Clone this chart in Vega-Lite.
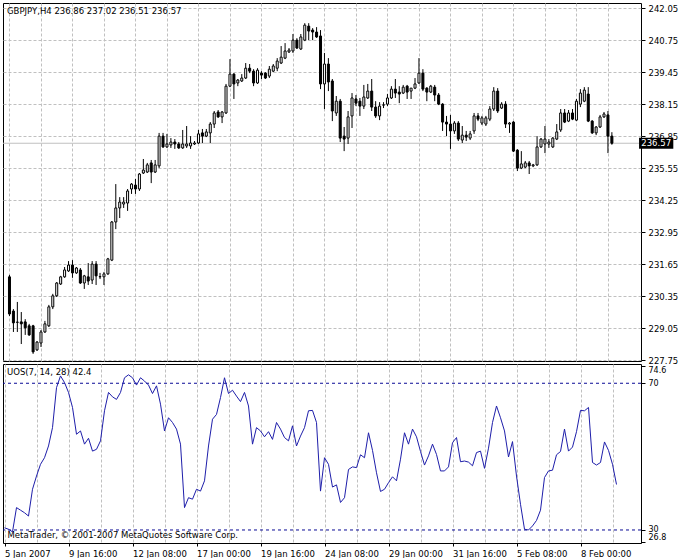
{
  "$schema": "https://vega.github.io/schema/vega-lite/v6.json",
  "background": "white",
  "padding": {"left": 2, "top": 2, "right": 0, "bottom": 0},
  "autosize": {"type": "pad"},
  "spacing": 3,
  "bounds": "flush",
  "config": {
    "font": "DejaVu Sans",
    "view": {"stroke": "black", "strokeWidth": 1},
    "axis": {
      "labelFont": "DejaVu Sans", "labelFontSize": 8.5, "labelColor": "black",
      "tickColor": "black", "domain": false, "labelOverlap": false, "labelSeparation": 0,
      "gridColor": "#c0c0c0", "gridDash": [3, 2], "gridWidth": 1, "gridOpacity": 1,
      "titleFont": "DejaVu Sans", "titleFontSize": 8.5, "titleFontWeight": "normal", "titleColor": "black"
    },
    "title": {"font": "DejaVu Sans", "fontSize": 8.5, "fontWeight": "normal", "color": "black", "anchor": "start", "frame": "group"}
  },
  "datasets": {
    "last": [{"p": 236.57, "t": "236.57"}],
    "levels": [{"level": 70}, {"level": 30}],
    "bars": [
      {"i":0,"o":231.14,"h":231.22,"l":229.55,"c":229.63,"u":30.6},
      {"i":1,"o":229.75,"h":229.83,"l":228.90,"c":229.27,"u":30.2},
      {"i":2,"o":229.29,"h":230.12,"l":228.90,"c":229.30,"u":29.5},
      {"i":3,"o":229.31,"h":229.71,"l":228.41,"c":229.23,"u":36.1},
      {"i":4,"o":229.31,"h":229.42,"l":228.78,"c":229.07,"u":35.4},
      {"i":5,"o":229.15,"h":229.23,"l":228.74,"c":228.78,"u":34.7},
      {"i":6,"o":229.15,"h":229.19,"l":228.01,"c":228.09,"u":33.8},
      {"i":7,"o":228.17,"h":228.53,"l":228.13,"c":228.49,"u":41.1},
      {"i":8,"o":228.45,"h":228.98,"l":228.29,"c":228.90,"u":44.7},
      {"i":9,"o":228.90,"h":229.35,"l":228.86,"c":229.23,"u":47.9},
      {"i":10,"o":229.15,"h":230.00,"l":229.10,"c":229.92,"u":49.7},
      {"i":11,"o":229.92,"h":230.45,"l":229.83,"c":230.37,"u":52.9},
      {"i":12,"o":230.37,"h":230.93,"l":230.32,"c":230.89,"u":57.9},
      {"i":13,"o":230.85,"h":231.18,"l":230.81,"c":231.14,"u":68.8},
      {"i":14,"o":231.14,"h":231.54,"l":231.10,"c":231.42,"u":72.0},
      {"i":15,"o":231.38,"h":231.78,"l":231.34,"c":231.62,"u":70.2},
      {"i":16,"o":231.62,"h":231.82,"l":231.10,"c":231.30,"u":67.5},
      {"i":17,"o":231.30,"h":231.54,"l":231.26,"c":231.50,"u":63.4},
      {"i":18,"o":231.42,"h":231.50,"l":230.85,"c":230.89,"u":56.1},
      {"i":19,"o":230.89,"h":231.22,"l":230.65,"c":231.18,"u":57.0},
      {"i":20,"o":231.14,"h":231.70,"l":230.81,"c":230.97,"u":53.4},
      {"i":21,"o":231.01,"h":231.78,"l":230.85,"c":231.66,"u":55.0},
      {"i":22,"o":231.66,"h":231.78,"l":230.81,"c":231.18,"u":51.5},
      {"i":23,"o":231.14,"h":231.30,"l":231.05,"c":231.15,"u":52.0},
      {"i":24,"o":231.14,"h":231.34,"l":230.81,"c":231.26,"u":54.3},
      {"i":25,"o":231.26,"h":231.91,"l":231.22,"c":231.87,"u":62.5},
      {"i":26,"o":231.82,"h":233.41,"l":231.78,"c":233.37,"u":67.5},
      {"i":27,"o":233.37,"h":234.91,"l":233.08,"c":233.94,"u":66.3},
      {"i":28,"o":233.94,"h":234.38,"l":233.53,"c":234.18,"u":65.6},
      {"i":29,"o":234.10,"h":234.38,"l":233.94,"c":234.18,"u":67.5},
      {"i":30,"o":234.14,"h":234.71,"l":233.82,"c":234.63,"u":71.5},
      {"i":31,"o":234.71,"h":234.95,"l":234.51,"c":234.91,"u":72.3},
      {"i":32,"o":234.87,"h":235.12,"l":234.51,"c":234.71,"u":71.5},
      {"i":33,"o":234.71,"h":235.36,"l":234.63,"c":235.32,"u":69.5},
      {"i":34,"o":235.36,"h":235.93,"l":235.32,"c":235.48,"u":71.5},
      {"i":35,"o":235.40,"h":235.77,"l":235.36,"c":235.69,"u":70.6},
      {"i":36,"o":235.77,"h":235.89,"l":234.95,"c":235.40,"u":69.5},
      {"i":37,"o":235.40,"h":235.89,"l":235.36,"c":235.69,"u":67.2},
      {"i":38,"o":235.65,"h":236.99,"l":235.56,"c":236.86,"u":69.3},
      {"i":39,"o":236.86,"h":236.99,"l":236.38,"c":236.42,"u":64.3},
      {"i":40,"o":236.42,"h":236.95,"l":236.38,"c":236.54,"u":57.0},
      {"i":41,"o":236.50,"h":236.78,"l":236.38,"c":236.62,"u":60.6},
      {"i":42,"o":236.62,"h":236.74,"l":236.34,"c":236.54,"u":59.3},
      {"i":43,"o":236.54,"h":236.62,"l":236.34,"c":236.38,"u":57.5},
      {"i":44,"o":236.38,"h":237.11,"l":236.34,"c":236.54,"u":53.4},
      {"i":45,"o":236.46,"h":237.27,"l":236.38,"c":236.54,"u":36.1},
      {"i":46,"o":236.46,"h":236.86,"l":236.34,"c":236.58,"u":38.8},
      {"i":47,"o":236.54,"h":236.66,"l":236.50,"c":236.58,"u":38.4},
      {"i":48,"o":236.58,"h":237.11,"l":236.54,"c":236.95,"u":41.1},
      {"i":49,"o":236.99,"h":237.15,"l":236.58,"c":236.86,"u":40.6},
      {"i":50,"o":236.86,"h":237.15,"l":236.82,"c":237.03,"u":43.4},
      {"i":51,"o":236.99,"h":237.43,"l":236.58,"c":237.35,"u":52.9},
      {"i":52,"o":237.35,"h":237.88,"l":237.19,"c":237.80,"u":60.2},
      {"i":53,"o":237.84,"h":237.92,"l":237.60,"c":237.64,"u":61.5},
      {"i":54,"o":237.64,"h":237.88,"l":237.39,"c":237.84,"u":66.1},
      {"i":55,"o":237.80,"h":238.98,"l":237.76,"c":238.89,"u":71.5},
      {"i":56,"o":238.89,"h":239.99,"l":238.85,"c":239.38,"u":67.2},
      {"i":57,"o":239.38,"h":239.42,"l":238.37,"c":238.98,"u":68.1},
      {"i":58,"o":239.02,"h":239.18,"l":238.89,"c":239.14,"u":66.5},
      {"i":59,"o":239.10,"h":239.38,"l":239.06,"c":239.22,"u":65.0},
      {"i":60,"o":239.22,"h":239.83,"l":239.18,"c":239.62,"u":67.5},
      {"i":61,"o":239.62,"h":239.79,"l":239.42,"c":239.50,"u":63.8},
      {"i":62,"o":239.50,"h":239.58,"l":238.89,"c":239.02,"u":53.4},
      {"i":63,"o":239.02,"h":239.62,"l":238.98,"c":239.54,"u":57.9},
      {"i":64,"o":239.42,"h":239.50,"l":239.18,"c":239.34,"u":57.0},
      {"i":65,"o":239.42,"h":239.46,"l":239.18,"c":239.22,"u":55.4},
      {"i":66,"o":239.30,"h":239.71,"l":239.22,"c":239.58,"u":56.8},
      {"i":67,"o":239.50,"h":239.79,"l":239.46,"c":239.71,"u":54.7},
      {"i":68,"o":239.62,"h":240.03,"l":239.50,"c":239.91,"u":59.3},
      {"i":69,"o":239.83,"h":240.52,"l":239.79,"c":240.07,"u":57.5},
      {"i":70,"o":240.03,"h":240.64,"l":239.99,"c":240.32,"u":55.2},
      {"i":71,"o":240.28,"h":240.44,"l":240.24,"c":240.36,"u":54.3},
      {"i":72,"o":240.32,"h":241.01,"l":240.24,"c":240.76,"u":58.4},
      {"i":73,"o":240.76,"h":240.84,"l":240.40,"c":240.44,"u":52.9},
      {"i":74,"o":240.40,"h":241.01,"l":240.36,"c":240.89,"u":55.6},
      {"i":75,"o":240.76,"h":241.45,"l":240.72,"c":241.37,"u":57.9},
      {"i":76,"o":241.33,"h":241.45,"l":240.76,"c":241.13,"u":62.5},
      {"i":77,"o":241.17,"h":241.25,"l":240.76,"c":241.09,"u":62.6},
      {"i":78,"o":241.09,"h":241.29,"l":240.85,"c":240.89,"u":59.3},
      {"i":79,"o":240.93,"h":241.17,"l":238.77,"c":238.98,"u":40.6},
      {"i":80,"o":238.98,"h":240.24,"l":237.96,"c":239.79,"u":49.7},
      {"i":81,"o":239.79,"h":240.03,"l":238.69,"c":239.06,"u":47.9},
      {"i":82,"o":239.10,"h":239.18,"l":237.47,"c":237.88,"u":41.7},
      {"i":83,"o":237.80,"h":238.49,"l":237.68,"c":238.28,"u":42.3},
      {"i":84,"o":238.28,"h":238.37,"l":236.62,"c":236.78,"u":37.5},
      {"i":85,"o":236.86,"h":237.23,"l":236.25,"c":236.74,"u":38.8},
      {"i":86,"o":236.78,"h":237.88,"l":236.54,"c":237.64,"u":46.5},
      {"i":87,"o":237.68,"h":238.61,"l":237.19,"c":238.41,"u":47.2},
      {"i":88,"o":238.37,"h":238.53,"l":238.08,"c":238.20,"u":47.0},
      {"i":89,"o":238.28,"h":238.41,"l":237.68,"c":238.08,"u":50.5},
      {"i":90,"o":238.08,"h":238.94,"l":237.96,"c":238.45,"u":49.7},
      {"i":91,"o":238.41,"h":238.98,"l":238.37,"c":238.69,"u":56.5},
      {"i":92,"o":238.69,"h":239.18,"l":237.88,"c":238.04,"u":51.7},
      {"i":93,"o":238.04,"h":238.28,"l":237.60,"c":237.68,"u":45.6},
      {"i":94,"o":237.68,"h":238.24,"l":237.51,"c":238.08,"u":40.5},
      {"i":95,"o":238.12,"h":238.24,"l":238.00,"c":238.13,"u":41.1},
      {"i":96,"o":238.16,"h":238.57,"l":238.08,"c":238.41,"u":42.9},
      {"i":97,"o":238.41,"h":238.89,"l":238.37,"c":238.77,"u":44.5},
      {"i":98,"o":238.77,"h":239.18,"l":238.41,"c":238.61,"u":43.4},
      {"i":99,"o":238.65,"h":238.89,"l":238.20,"c":238.57,"u":49.3},
      {"i":100,"o":238.61,"h":238.94,"l":238.57,"c":238.85,"u":56.5},
      {"i":101,"o":238.89,"h":238.94,"l":238.37,"c":238.65,"u":53.4},
      {"i":102,"o":238.69,"h":238.77,"l":238.37,"c":238.81,"u":57.5},
      {"i":103,"o":238.81,"h":239.22,"l":238.77,"c":238.98,"u":55.4},
      {"i":104,"o":239.02,"h":240.03,"l":238.98,"c":239.42,"u":51.4},
      {"i":105,"o":239.42,"h":239.58,"l":238.69,"c":238.77,"u":47.7},
      {"i":106,"o":238.81,"h":238.85,"l":238.28,"c":238.65,"u":50.2},
      {"i":107,"o":238.65,"h":238.94,"l":238.61,"c":238.89,"u":53.4},
      {"i":108,"o":238.85,"h":238.94,"l":238.28,"c":238.53,"u":50.6},
      {"i":109,"o":238.53,"h":238.61,"l":238.12,"c":238.16,"u":46.1},
      {"i":110,"o":238.16,"h":238.20,"l":237.07,"c":237.43,"u":46.1},
      {"i":111,"o":237.43,"h":237.68,"l":236.86,"c":237.35,"u":47.2},
      {"i":112,"o":237.35,"h":237.72,"l":236.34,"c":237.07,"u":53.8},
      {"i":113,"o":237.07,"h":237.47,"l":236.95,"c":237.39,"u":55.2},
      {"i":114,"o":237.39,"h":237.47,"l":236.66,"c":236.74,"u":48.6},
      {"i":115,"o":236.70,"h":237.27,"l":236.58,"c":236.90,"u":48.8},
      {"i":116,"o":236.90,"h":237.07,"l":236.66,"c":236.82,"u":48.5},
      {"i":117,"o":236.78,"h":237.07,"l":236.70,"c":236.95,"u":47.5},
      {"i":118,"o":237.07,"h":237.80,"l":236.95,"c":237.68,"u":51.1},
      {"i":119,"o":237.68,"h":237.80,"l":237.47,"c":237.55,"u":51.5},
      {"i":120,"o":237.39,"h":237.68,"l":237.31,"c":237.60,"u":46.8},
      {"i":121,"o":237.35,"h":237.68,"l":237.27,"c":237.60,"u":52.3},
      {"i":122,"o":237.55,"h":238.08,"l":237.47,"c":237.96,"u":59.3},
      {"i":123,"o":237.96,"h":238.85,"l":237.88,"c":238.69,"u":63.8},
      {"i":124,"o":238.69,"h":238.81,"l":237.80,"c":237.88,"u":60.6},
      {"i":125,"o":238.00,"h":238.24,"l":237.96,"c":238.16,"u":57.0},
      {"i":126,"o":238.16,"h":238.28,"l":237.19,"c":237.35,"u":49.9},
      {"i":127,"o":237.35,"h":237.43,"l":236.99,"c":237.39,"u":54.1},
      {"i":128,"o":237.43,"h":237.47,"l":236.21,"c":236.25,"u":44.7},
      {"i":129,"o":236.29,"h":236.33,"l":235.44,"c":235.56,"u":37.0},
      {"i":130,"o":235.56,"h":236.25,"l":235.52,"c":235.73,"u":30.2},
      {"i":131,"o":235.60,"h":235.85,"l":235.56,"c":235.77,"u":30.0},
      {"i":132,"o":235.77,"h":235.85,"l":235.32,"c":235.65,"u":31.1},
      {"i":133,"o":235.65,"h":235.73,"l":235.60,"c":235.69,"u":32.6},
      {"i":134,"o":235.69,"h":236.86,"l":235.65,"c":236.42,"u":35.4},
      {"i":135,"o":236.42,"h":236.78,"l":236.38,"c":236.74,"u":44.3},
      {"i":136,"o":236.54,"h":237.27,"l":236.17,"c":236.74,"u":46.1},
      {"i":137,"o":236.54,"h":236.74,"l":236.38,"c":236.62,"u":46.3},
      {"i":138,"o":236.42,"h":236.82,"l":236.38,"c":236.78,"u":50.5},
      {"i":139,"o":236.74,"h":237.35,"l":236.70,"c":237.03,"u":51.4},
      {"i":140,"o":237.11,"h":237.96,"l":237.03,"c":237.80,"u":57.5},
      {"i":141,"o":237.80,"h":237.96,"l":237.39,"c":237.43,"u":51.5},
      {"i":142,"o":237.47,"h":237.92,"l":237.43,"c":237.80,"u":52.6},
      {"i":143,"o":237.80,"h":237.96,"l":237.51,"c":237.55,"u":56.8},
      {"i":144,"o":237.51,"h":238.37,"l":237.47,"c":238.28,"u":62.6},
      {"i":145,"o":238.16,"h":238.77,"l":238.04,"c":238.61,"u":62.5},
      {"i":146,"o":238.28,"h":238.85,"l":238.24,"c":238.73,"u":63.4},
      {"i":147,"o":238.57,"h":238.85,"l":237.43,"c":237.47,"u":48.4},
      {"i":148,"o":237.47,"h":237.51,"l":236.95,"c":236.99,"u":47.7},
      {"i":149,"o":236.99,"h":237.27,"l":236.90,"c":237.23,"u":48.4},
      {"i":150,"o":237.23,"h":237.72,"l":237.19,"c":237.64,"u":54.0},
      {"i":151,"o":237.64,"h":237.84,"l":237.60,"c":237.76,"u":51.7},
      {"i":152,"o":237.72,"h":237.88,"l":236.17,"c":236.86,"u":47.9},
      {"i":153,"o":236.86,"h":237.02,"l":236.51,"c":236.57,"u":42.4}
    ]
  },
  "vconcat": [
    {
      "width": 638,
      "height": 358,
      "title": {"text": "GBPJPY,H4  236.86 237.02 236.51 236.57", "offset": -12, "dx": 4},
      "layer": [
        {
          "data": {"name": "last"},
          "mark": {"type": "rule", "color": "#c0c0c0", "strokeWidth": 1},
          "encoding": {
            "y": {"field": "p", "type": "quantitative", "scale": {"domain": [227.72, 242.27], "nice": false, "zero": false}}
          }
        },
        {
          "data": {"name": "bars"},
          "mark": {"type": "rule", "color": "black", "strokeWidth": 1},
          "encoding": {
            "x": {"field": "i", "type": "quantitative", "scale": {"domain": [-0.375, 159.125], "nice": false, "zero": false},
              "axis": {"title": null, "values": [0, 8, 16, 24, 32, 40, 48, 56, 64, 72, 80, 88, 96, 104, 112, 120, 128, 136, 144, 152], "tickCount": 60, "labels": false, "ticks": false, "domain": false, "grid": true}},
            "y": {"field": "l", "type": "quantitative", "scale": {"domain": [227.72, 242.27], "nice": false, "zero": false},
              "axis": {"orient": "right", "title": null, "values": [227.75, 229.05, 230.35, 231.65, 232.95, 234.25, 235.55, 236.85, 238.15, 239.45, 240.75, 242.05], "tickCount": 40, "format": ".2f", "tickSize": 4, "labelPadding": 3, "grid": true, "labelFlush": false, "labelOverlap": false, "labelSeparation": 0, "labelBound": false}},
            "y2": {"field": "h"}
          }
        },
        {
          "data": {"name": "bars"},
          "mark": {"type": "bar", "size": 2, "stroke": "black", "strokeWidth": 1},
          "encoding": {
            "x": {"field": "i", "type": "quantitative", "scale": {"domain": [-0.375, 159.125], "nice": false, "zero": false}},
            "y": {"field": "o", "type": "quantitative", "scale": {"domain": [227.72, 242.27], "nice": false, "zero": false}},
            "y2": {"field": "c"},
            "fill": {"condition": {"test": "datum.c < datum.o", "value": "black"}, "value": "white"}
          }
        },
        {
          "data": {"name": "last"},
          "mark": {"type": "rule", "color": "black", "strokeWidth": 11, "strokeCap": "butt"},
          "encoding": {
            "x": {"datum": 159.9, "type": "quantitative", "scale": {"domain": [-0.375, 159.125], "nice": false, "zero": false}},
            "x2": {"datum": 168.6},
            "y": {"field": "p", "type": "quantitative", "scale": {"domain": [227.72, 242.27], "nice": false, "zero": false}}
          }
        },
        {
          "data": {"name": "last"},
          "mark": {"type": "text", "color": "white", "align": "center", "baseline": "middle", "font": "DejaVu Sans", "fontSize": 8.5},
          "encoding": {
            "x": {"datum": 164.25, "type": "quantitative", "scale": {"domain": [-0.375, 159.125], "nice": false, "zero": false}},
            "y": {"field": "p", "type": "quantitative", "scale": {"domain": [227.72, 242.27], "nice": false, "zero": false}},
            "text": {"field": "t"}
          }
        }
      ]
    },
    {
      "width": 638,
      "height": 179,
      "title": {"text": "UOS(7, 14, 28) 42.4", "offset": -12, "dx": 4},
      "layer": [
        {
          "data": {"name": "levels"},
          "mark": {"type": "rule", "color": "#0a0a96", "strokeWidth": 1, "strokeDash": [3, 3]},
          "encoding": {
            "y": {"field": "level", "type": "quantitative", "scale": {"domain": [26.45, 75.25], "nice": false, "zero": false},
              "axis": {"orient": "right", "title": null, "values": [26.8, 30, 70, 74.6], "tickCount": 20, "format": ".3~r", "tickSize": 4, "labelPadding": 3, "grid": false, "labelFlush": 4, "labelOverlap": false, "labelFontSize": 8}}
          }
        },
        {
          "data": {"name": "bars"},
          "mark": {"type": "line", "color": "#1e1eaa", "strokeWidth": 1},
          "encoding": {
            "x": {"field": "i", "type": "quantitative", "scale": {"domain": [-0.375, 159.125], "nice": false, "zero": false},
              "axis": {
                "title": "MetaTrader, © 2001-2007 MetaQuotes Software Corp.",
                "titleAnchor": "start", "titleAlign": "left", "titleBaseline": "bottom", "titleX": 4, "titleY": -4,
                "values": [0, 8, 16, 24, 32, 40, 48, 56, 64, 72, 80, 88, 96, 104, 112, 120, 128, 136, 144, 152],
                "tickCount": 60,
                "grid": true, "domain": false, "tickSize": 3, "labelPadding": 3,
                "tickOpacity": {"condition": {"test": "datum.value % 16 !== 0", "value": 0}, "value": 1},
                "labelAlign": "left", "labelBaseline": "top", "labelOverlap": false, "labelBound": false, "labelFlush": false,
                "labelExpr": "datum.value % 16 === 0 ? ['5 Jan 2007','9 Jan 16:00','12 Jan 08:00','17 Jan 00:00','19 Jan 16:00','24 Jan 08:00','29 Jan 00:00','31 Jan 16:00','5 Feb 08:00','8 Feb 00:00'][datum.value / 16] : ''"
              }},
            "y": {"field": "u", "type": "quantitative", "scale": {"domain": [26.45, 75.25], "nice": false, "zero": false}}
          }
        }
      ]
    }
  ]
}
